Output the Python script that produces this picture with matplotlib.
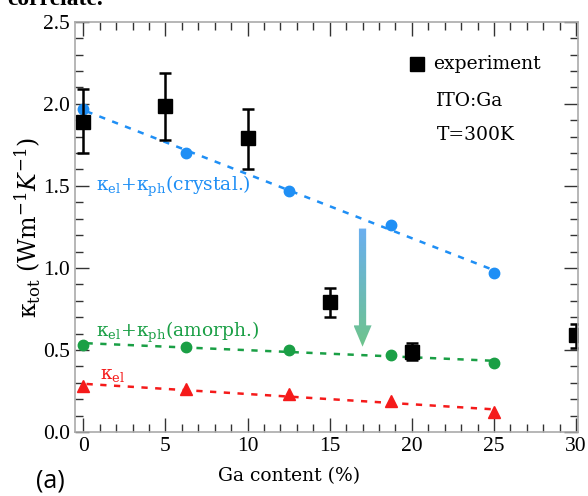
import numpy as np
import matplotlib.pyplot as plt
from matplotlib.patches import Polygon
from matplotlib.colors import LinearSegmentedColormap
from matplotlib.ticker import MultipleLocator

plt.rcParams['font.family'] = ['DejaVu Serif']
plt.rcParams['mathtext.fontset'] = 'custom'
plt.rcParams['mathtext.rm'] = 'DejaVu Serif'
plt.rcParams['mathtext.it'] = 'DejaVu Serif:italic'

# calculated values
x_calc = [0, 6.25, 12.5, 18.75, 25]
k_crystal = [1.97, 1.70, 1.47, 1.26, 0.97]
k_amorph = [0.53, 0.52, 0.50, 0.47, 0.42]
k_el = [0.28, 0.26, 0.23, 0.19, 0.12]

# experiment
x_exp = [0, 5, 10, 15, 20, 30]
k_exp = [1.89, 1.99, 1.79, 0.79, 0.49, 0.59]
err_lo = [0.19, 0.21, 0.19, 0.09, 0.05, 0.08]
err_hi = [0.20, 0.20, 0.18, 0.09, 0.05, 0.07]

blue = "#1f8ff5"
green = "#1a9f45"
red = "#f51a1a"

fig = plt.figure(figsize=(5.88, 4.96), dpi=100)
ax = fig.add_axes([0.1276, 0.129, 0.855, 0.827])

for y, c, m, ms in [(k_crystal, blue, 'o', 7.5), (k_amorph, green, 'o', 7.5), (k_el, red, '^', 8.5)]:
    p = np.polyfit(x_calc, y, 1)
    xx = np.array([0.2, 25])
    ax.plot(xx, np.polyval(p, xx), '--', color=c, lw=1.8, dashes=(2.5, 3))
    ax.plot(x_calc, y, m, color=c, ms=ms, ls='none')

ax.errorbar(x_exp, k_exp, yerr=[err_lo, err_hi], fmt='s', color='black',
            ms=10, capsize=4, elinewidth=1.8, capthick=1.8)

# gradient arrow
ax_x = 17.0
shaft_w = 0.22
head_w = 0.55
top, neck, tip = 1.24, 0.65, 0.52
verts = [(ax_x - shaft_w, top), (ax_x + shaft_w, top), (ax_x + shaft_w, neck),
         (ax_x + head_w, neck), (ax_x, tip), (ax_x - head_w, neck), (ax_x - shaft_w, neck)]
arrow = Polygon(verts, closed=True, facecolor='none', edgecolor='none')
ax.add_patch(arrow)
cmap = LinearSegmentedColormap.from_list('arr', ["#6ec48c", "#6aaff0"])
grad = np.linspace(0, 1, 100).reshape(-1, 1)
im = ax.imshow(grad, extent=[ax_x - head_w, ax_x + head_w, tip, top], origin='lower',
               cmap=cmap, aspect='auto', zorder=3)
im.set_clip_path(arrow)

fs = 13.5
ax.text(0.8, 1.50, r"$\mathrm{\kappa_{el}{+}\kappa_{ph}}$(crystal.)", color=blue,
        fontsize=fs, va='center')
ax.text(0.8, 0.61, r"$\mathrm{\kappa_{el}{+}\kappa_{ph}}$(amorph.)", color=green,
        fontsize=fs, va='center')
ax.text(1.0, 0.35, r"$\mathrm{\kappa_{el}}$", color=red, fontsize=fs, va='center')

ax.plot([20.3], [2.24], 's', color='black', ms=10)
ax.text(21.3, 2.24, "experiment", fontsize=fs, va='center')
ax.text(21.5, 2.02, "ITO:Ga", fontsize=fs, va='center')
ax.text(21.5, 1.81, "T=300K", fontsize=fs, va='center')

ax.set_xlim(-0.5, 30.1)
ax.set_ylim(0, 2.5)
ax.xaxis.set_major_locator(MultipleLocator(5))
ax.xaxis.set_minor_locator(MultipleLocator(1))
ax.yaxis.set_major_locator(MultipleLocator(0.5))
ax.yaxis.set_minor_locator(MultipleLocator(0.1))
ax.tick_params(which='both', direction='in', top=True, right=True, color='#333333',
               width=1)
ax.tick_params(which='major', length=10)
ax.tick_params(which='minor', length=6)
for lab in ax.get_xticklabels() + ax.get_yticklabels():
    lab.set_family(['Liberation Serif'])
    lab.set_fontsize(15.5)
for s in ax.spines.values():
    s.set_color('#aaaaaa')
    s.set_linewidth(1.2)

ax.set_ylabel(r"$\mathrm{\kappa_{tot}}$ (Wm$^{-1}$$\it{K}^{-1}$)", fontsize=17, labelpad=0)
ax.set_xlabel("Ga content (%)", fontsize=fs)
ax.xaxis.set_label_coords(0.425, -0.085)
fig.text(0.062, 0.018, "(a)", fontsize=18, family=['Open Sans', 'DejaVu Sans'])
fig.text(0.012, 0.99, "correlate.", fontsize=17, fontweight='bold', va='baseline',
         family=['Liberation Serif'])

fig.savefig("out.png", dpi=100)
